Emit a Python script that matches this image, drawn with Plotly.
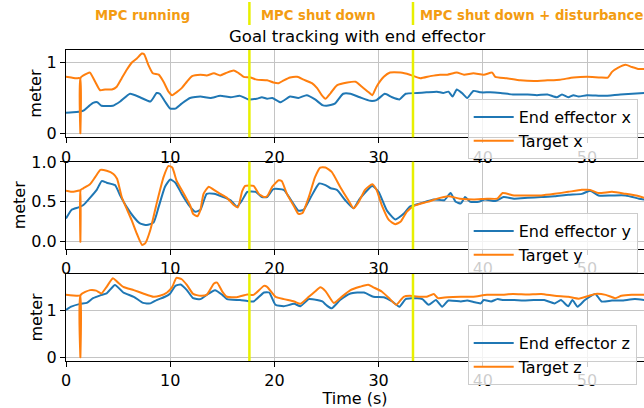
import plotly.graph_objects as go

# ---------------- data ----------------
x_ticks = [0, 10, 20, 30, 40, 50]
phase_times = [17.6, 33.3]
phase_labels = ["MPC running", "MPC shut down", "MPC shut down + disturbance"]
phase_label_x = [2.55, 18.55, 33.75]

t_tx = [0, 0.5, 1.0, 1.35, 1.38, 1.41, 2.05, 2.3, 2.8, 3.27, 3.75, 4.4, 4.87, 5.35, 5.83, 6.3, 6.8,
        7.28, 7.5, 7.9, 8.33, 8.9, 9.36, 9.84, 10.2, 10.6, 11.1, 11.6, 12.1, 12.9, 13.5, 14.2, 14.8,
        15.45, 16.1, 16.6, 17.05, 17.7, 18.3, 19.3, 19.9, 20.4, 20.9, 21.5, 22.2, 22.8, 23.6, 24.1,
        24.5, 24.9, 25.4, 26.0, 27.0, 27.8, 28.4, 29.05, 29.4, 29.8, 30.5, 31.1, 32.1, 33.0, 34.0,
        34.96, 35.9, 36.6, 37.5, 38.2, 39.1, 40.1, 40.9, 41.2, 42.3, 43.6, 44.9, 46.2, 47.4, 48.7,
        50.0, 51.3, 52.0, 52.4, 53.0, 53.7, 54.3, 55.0, 55.5]
target_x = [0.80, 0.79, 0.78, 0.78, 0.0, 0.79, 0.85, 0.86, 0.73, 0.61, 0.62, 0.62, 0.66, 0.78, 0.90,
            1.00, 1.06, 1.13, 1.12, 0.97, 0.85, 0.83, 0.73, 0.59, 0.54, 0.58, 0.64, 0.73, 0.81, 0.83,
            0.82, 0.85, 0.82, 0.86, 0.89, 0.85, 0.80, 0.79, 0.76, 0.75, 0.72, 0.71, 0.75, 0.79, 0.80,
            0.76, 0.71, 0.64, 0.55, 0.49, 0.57, 0.68, 0.72, 0.73, 0.66, 0.58, 0.54, 0.66, 0.80, 0.86,
            0.86, 0.83, 0.78, 0.81, 0.83, 0.83, 0.86, 0.83, 0.85, 0.83, 0.86, 0.80, 0.78, 0.75, 0.74,
            0.75, 0.76, 0.79, 0.80, 0.79, 0.79, 0.87, 0.93, 0.97, 0.94, 0.91, 0.91]

t_ex = [0, 1.0, 1.67, 2.15, 2.6, 3.0, 3.4, 4.5, 5.2, 6.15, 7.1, 8.1, 8.7, 9.0, 9.5, 10.0, 10.5, 11.1,
        11.9, 12.9, 13.85, 14.8, 15.8, 16.7, 17.5, 18.3, 18.8, 19.3, 19.8, 20.6, 21.5, 22.3, 23.1,
        23.9, 24.6, 25.0, 25.8, 26.6, 27.3, 28.2, 29.2, 29.8, 30.6, 31.3, 32.0, 32.6, 33.7, 34.6,
        35.6, 36.2, 36.7, 37.1, 37.5, 38.0, 38.5, 39.1, 39.8, 40.7, 41.7, 42.9, 44.3, 45.2, 46.2,
        47.1, 47.6, 48.2, 48.7, 49.2, 50.0, 51.6, 53.2, 55.5]
ee_x = [0.29, 0.30, 0.32, 0.38, 0.43, 0.44, 0.39, 0.39, 0.45, 0.56, 0.51, 0.45, 0.57, 0.56, 0.45,
        0.35, 0.35, 0.42, 0.50, 0.52, 0.50, 0.53, 0.51, 0.53, 0.48, 0.49, 0.51, 0.49, 0.50, 0.44,
        0.52, 0.50, 0.54, 0.48, 0.40, 0.39, 0.42, 0.56, 0.56, 0.51, 0.46, 0.47, 0.56, 0.51, 0.48,
        0.56, 0.57, 0.58, 0.59, 0.57, 0.59, 0.52, 0.62, 0.57, 0.50, 0.60, 0.58, 0.58, 0.57, 0.55,
        0.55, 0.54, 0.55, 0.51, 0.55, 0.51, 0.54, 0.52, 0.54, 0.53, 0.55, 0.57]

t_ty = [0, 0.7, 1.2, 1.35, 1.38, 1.41, 1.67, 2.3, 2.8, 3.3, 3.9, 4.55, 4.9, 5.35, 5.8, 6.3, 6.8, 7.3,
        7.6, 8.1, 8.7, 9.36, 9.84, 10.2, 10.6, 11.4, 11.9, 12.2, 12.6, 12.9, 13.2, 13.7, 14.2, 14.8,
        15.45, 16.1, 16.5, 16.9, 17.2, 18.0, 18.5, 19.0, 19.3, 19.8, 20.4, 20.7, 21.2, 21.9, 22.3,
        22.7, 23.3, 23.9, 24.4, 24.9, 25.5, 26.3, 27.1, 27.6, 28.1, 28.7, 29.4, 29.8, 30.3, 31.0,
        31.6, 32.1, 32.7, 33.4, 34.7, 35.9, 36.7, 37.8, 39.1, 40.4, 41.4, 41.9, 43.0, 44.3, 45.6,
        46.9, 48.2, 49.5, 50.3, 51.1, 52.4, 53.7, 55.0, 55.5]
target_y = [0.64, 0.625, 0.64, 0.645, 0.0, 0.65, 0.67, 0.72, 0.81, 0.90, 0.89, 0.85, 0.79, 0.56, 0.42,
            0.27, 0.10, -0.04, -0.02, 0.15, 0.48, 0.81, 0.95, 0.93, 0.77, 0.58, 0.46, 0.35, 0.32,
            0.40, 0.60, 0.69, 0.65, 0.60, 0.55, 0.46, 0.43, 0.63, 0.70, 0.70, 0.60, 0.56, 0.57, 0.69,
            0.77, 0.76, 0.60, 0.44, 0.35, 0.36, 0.56, 0.81, 0.93, 0.93, 0.875, 0.69, 0.52, 0.42, 0.50,
            0.65, 0.72, 0.65, 0.46, 0.27, 0.22, 0.25, 0.375, 0.45, 0.50, 0.55, 0.57, 0.54, 0.53, 0.54,
            0.54, 0.61, 0.58, 0.58, 0.58, 0.60, 0.625, 0.65, 0.65, 0.61, 0.625, 0.60, 0.57, 0.55]

t_ey = [0, 0.55, 1.2, 1.67, 2.3, 2.95, 3.43, 3.9, 4.7, 5.2, 5.8, 6.5, 7.1, 7.75, 8.4, 8.9, 9.5, 10.0,
        10.5, 11.1, 11.9, 12.4, 12.9, 13.5, 14.2, 15.1, 15.8, 16.4, 16.9, 17.4, 18.2, 18.8, 19.3,
        19.9, 20.9, 21.5, 22.3, 22.8, 23.5, 24.3, 24.9, 25.4, 26.0, 26.8, 27.6, 28.2, 29.4, 30.0,
        30.8, 31.6, 32.4, 33.0, 34.0, 35.3, 36.3, 36.9, 37.4, 37.9, 38.3, 38.8, 39.6, 40.2, 41.2,
        42.0, 43.0, 44.3, 45.6, 46.9, 48.2, 49.5, 50.3, 51.1, 52.4, 53.7, 55.0, 55.5]
ee_y = [0.29, 0.40, 0.43, 0.46, 0.55, 0.65, 0.76, 0.74, 0.71, 0.58, 0.44, 0.31, 0.23, 0.21, 0.24,
        0.44, 0.69, 0.78, 0.74, 0.60, 0.44, 0.375, 0.40, 0.60, 0.60, 0.56, 0.52, 0.44, 0.52, 0.625,
        0.625, 0.56, 0.56, 0.66, 0.65, 0.54, 0.39, 0.40, 0.56, 0.73, 0.71, 0.67, 0.65, 0.52, 0.42,
        0.54, 0.70, 0.625, 0.39, 0.28, 0.35, 0.44, 0.48, 0.53, 0.52, 0.61, 0.50, 0.48, 0.56, 0.50,
        0.50, 0.53, 0.51, 0.56, 0.54, 0.55, 0.56, 0.57, 0.59, 0.60, 0.64, 0.58, 0.58, 0.58, 0.54, 0.53]

t_tz = [0, 1.0, 1.35, 1.38, 1.41, 2.3, 2.9, 3.4, 3.9, 4.5, 4.9, 5.5, 6.5, 7.4, 8.4, 9.0, 9.7, 10.2,
        10.6, 11.1, 11.6, 12.2, 12.9, 13.5, 14.2, 14.5, 15.0, 15.45, 16.4, 17.4, 18.0, 19.0, 19.3,
        20.1, 20.9, 21.9, 22.5, 23.3, 23.9, 24.4, 24.9, 25.7, 26.3, 27.3, 28.2, 29.0, 29.5, 30.3,
        31.1, 31.7, 32.4, 33.0, 34.0, 34.6, 35.3, 35.7, 36.6, 37.9, 39.1, 40.4, 41.7, 42.9, 44.3,
        45.6, 46.9, 48.2, 49.2, 50.2, 50.8, 51.8, 52.7, 53.3, 54.3, 55.5]
target_z = [1.32, 1.30, 1.30, 0.0, 1.32, 1.42, 1.41, 1.35, 1.49, 1.67, 1.60, 1.49, 1.42, 1.35, 1.28,
            1.30, 1.37, 1.49, 1.68, 1.65, 1.53, 1.34, 1.30, 1.32, 1.56, 1.58, 1.39, 1.28, 1.27, 1.33,
            1.32, 1.51, 1.49, 1.28, 1.23, 1.18, 1.13, 1.28, 1.39, 1.48, 1.40, 1.15, 1.25, 1.42, 1.49,
            1.535, 1.48, 1.39, 1.23, 1.11, 1.28, 1.30, 1.28, 1.28, 1.34, 1.25, 1.27, 1.28, 1.28, 1.32,
            1.32, 1.34, 1.33, 1.34, 1.30, 1.28, 1.24, 1.30, 1.34, 1.32, 1.25, 1.30, 1.32, 1.32]

t_ez = [0, 0.5, 1.35, 2.0, 2.6, 3.3, 3.9, 4.7, 5.5, 6.5, 7.4, 8.1, 8.7, 9.5, 10.0, 10.5, 11.0, 11.6,
        12.2, 12.9, 13.5, 14.3, 15.0, 15.45, 16.7, 17.4, 18.0, 19.0, 19.5, 20.1, 20.9, 21.9, 22.5,
        23.3, 24.1, 24.6, 25.0, 25.5, 26.3, 27.3, 28.6, 29.5, 30.5, 31.3, 32.0, 32.6, 33.7, 34.2,
        34.8, 35.5, 36.1, 36.7, 37.9, 38.5, 39.1, 39.8, 40.1, 40.8, 41.4, 42.0, 43.0, 43.9, 44.9,
        45.9, 46.9, 47.5, 48.2, 48.6, 49.1, 49.8, 50.8, 51.4, 52.4, 53.3, 54.6, 55.5]
ee_z = [1.0, 1.07, 1.13, 1.15, 1.25, 1.31, 1.35, 1.53, 1.37, 1.28, 1.15, 1.14, 1.21, 1.28, 1.35,
        1.51, 1.54, 1.42, 1.25, 1.23, 1.32, 1.42, 1.32, 1.23, 1.21, 1.19, 1.18, 1.37, 1.37, 1.11,
        1.08, 1.13, 1.08, 1.23, 1.21, 1.18, 1.10, 1.035, 1.21, 1.35, 1.37, 1.28, 1.27, 1.18, 1.07,
        1.23, 1.25, 1.23, 1.11, 1.21, 1.07, 1.20, 1.18, 1.20, 1.17, 1.14, 1.21, 1.18, 1.23, 1.21,
        1.21, 1.20, 1.21, 1.21, 1.14, 1.21, 1.08, 1.21, 1.07, 1.21, 1.34, 1.18, 1.20, 1.20, 1.23, 1.21]

# ---------------- styling ----------------
BLUE = "#1f77b4"
ORANGE = "#ff7f0e"
YELLOW = "#e8f000"
LABEL_ORANGE = "#f39c12"
FONT = "DejaVu Sans"
W, H = 644, 408
ML, MR, MT, MB = 66, 0, 50, 47
PH = H - MT - MB  # plot height in px
PW = W - ML - MR


def py(p):
    """pixel row -> paper y"""
    return (H - MB - p) / PH


def px(p):
    """pixel column -> paper x"""
    return (p - ML) / PW


fig = go.Figure()

panels = [
    (t_ex, ee_x, t_tx, target_x, "End effector x", "Target x", "x", "y", "legend"),
    (t_ey, ee_y, t_ty, target_y, "End effector y", "Target y", "x2", "y2", "legend2"),
    (t_ez, ee_z, t_tz, target_z, "End effector z", "Target z", "x3", "y3", "legend3"),
]
for te, ve, tt, vt, ne, nt, xa, ya, lg in panels:
    fig.add_trace(go.Scatter(x=te, y=ve, name=ne, mode="lines", xaxis=xa, yaxis=ya, legend=lg,
                             line=dict(color=BLUE, width=2, shape="spline", smoothing=0.5)))
    fig.add_trace(go.Scatter(x=tt, y=vt, name=nt, mode="lines", xaxis=xa, yaxis=ya, legend=lg,
                             line=dict(color=ORANGE, width=2, shape="spline", smoothing=0.5)))

axis_common = dict(showline=True, linecolor="black", linewidth=1, ticks="outside", ticklen=5,
                   tickwidth=1, tickcolor="black", showgrid=True, gridcolor="#c4c4c4", gridwidth=1,
                   zeroline=False, tickfont=dict(family=FONT, size=16, color="black"),
                   automargin=False)

x_range = [0, PW / 10.42]
domains = [[py(137.3), py(50)], [py(249), py(161.7)], [py(361), py(274)]]
y_ranges = [[-0.057, 1.18], [-0.091, 1.003], [-0.078, 1.761]]
y_ticks = [[0, 1], [0, 0.5, 1.0], [0, 1]]
y_ticktext = [["0", "1"], ["0.0", "0.5", "1.0"], ["0", "1"]]
ylabel_x = [36, 19, 36]

layout = dict(
    width=W, height=H, margin=dict(l=ML, r=MR, t=MT, b=MB, pad=0),
    paper_bgcolor="white", plot_bgcolor="white",
    font=dict(family=FONT, size=16, color="black"),
    template="none", showlegend=True,
)
for i in range(3):
    sx = "" if i == 0 else str(i + 1)
    layout["xaxis" + sx] = dict(axis_common, range=x_range, tickvals=x_ticks, mirror=True,
                                anchor="y" + sx, domain=[0, 1])
    layout["yaxis" + sx] = dict(axis_common, range=y_ranges[i], tickvals=y_ticks[i],
                                ticktext=y_ticktext[i], domain=domains[i], anchor="x" + sx)
layout["xaxis3"]["title"] = dict(text="Time (s)", font=dict(family=FONT, size=16), standoff=5)

legend_tops = [99, 213, 325]
for i, top in enumerate(legend_tops):
    key = "legend" if i == 0 else "legend" + str(i + 1)
    layout[key] = dict(x=px(467.7), y=py(top), xanchor="left", yanchor="top",
                       bgcolor="rgba(255,255,255,0.8)", bordercolor="#cccccc", borderwidth=1,
                       font=dict(family=FONT, size=16, color="black"), itemwidth=40,
                       tracegroupgap=0)

fig.update_layout(**layout)

# phase separators
shapes = []
for i in range(3):
    sx = "" if i == 0 else str(i + 1)
    for t in phase_times:
        shapes.append(dict(type="line", xref="x" + sx, yref="y" + sx + " domain", x0=t, x1=t,
                           y0=0, y1=1, line=dict(color=YELLOW, width=2.5), layer="above"))
for t in phase_times:
    shapes.append(dict(type="line", xref="x", yref="paper", x0=t, x1=t, y0=py(25), y1=py(2),
                       line=dict(color=YELLOW, width=2.5), layer="above"))
fig.update_layout(shapes=shapes)

annotations = []
for lbl, xv in zip(phase_labels, phase_label_x):
    annotations.append(dict(text="<b>%s</b>" % lbl, x=xv, xref="x", y=py(15.5), yref="paper",
                            xanchor="left", yanchor="middle", showarrow=False,
                            font=dict(family=FONT, size=13.2, color=LABEL_ORANGE)))
annotations.append(dict(text="Goal tracking with end effector", x=px(357),
                        xref="paper", y=py(36.5), yref="paper", xanchor="center", yanchor="middle",
                        showarrow=False, font=dict(family=FONT, size=16.5, color="black")))
for i in range(3):
    yc = (domains[i][0] + domains[i][1]) / 2
    annotations.append(dict(text="meter", textangle=-90, x=px(ylabel_x[i]), xref="paper",
                            y=yc, yref="paper", xanchor="center", yanchor="middle",
                            showarrow=False, font=dict(family=FONT, size=16, color="black")))
fig.update_layout(annotations=annotations)

fig.write_html("out.html", config={"displayModeBar": False},
               post_script="document.body.style.margin='0px';document.body.style.overflow='hidden';")
